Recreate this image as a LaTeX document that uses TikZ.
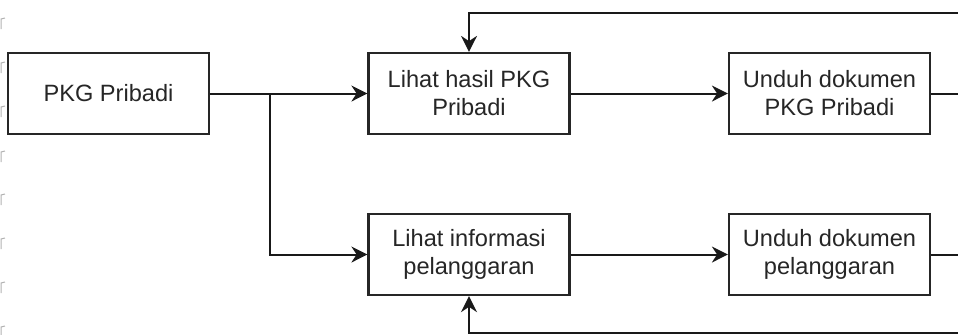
\documentclass[tikz,border=0pt]{standalone}
\usepackage{fontspec}
\setmainfont{Liberation Sans}
\usetikzlibrary{arrows.meta}

\begin{document}
\begin{tikzpicture}[x=0.5pt,y=-0.5pt,
  stepbox/.style={draw=black!85, line width=1.1pt, fill=white,
    minimum width=100.5pt, minimum height=40.5pt, inner sep=2pt,
    align=center, text=black!85,
    font=\fontsize{11.8}{14}\selectfont},
  link/.style={draw=black!90, line width=1pt},
  arr/.style={link, -{Stealth[length=8pt, width=8pt, inset=2.6pt]}},
  tickline/.style={draw=black!30, line width=0.5pt}
]
\useasboundingbox (0,0) rectangle (958,334);

% faint marks along the left edge
\foreach \t in {19,63,107,152,195,239,283,327}
  \draw[tickline] (1,\t+10) -- (1,\t) -- (5,\t-1);

% boxes
\node[stepbox] (pkg)      at (108.5,93.5) {PKG Pribadi};
\node[stepbox] (hasil)    at (469,93.5)   {Lihat hasil PKG\\Pribadi};
\node[stepbox] (unduhpkg) at (829.5,93.5) {Unduh dokumen\\PKG Pribadi};
\node[stepbox] (info)     at (469,254.5)  {Lihat informasi\\pelanggaran};
\node[stepbox] (unduhpel) at (829.5,254.5){Unduh dokumen\\pelanggaran};

% free ends running off the right and bottom edges
\coordinate (br)   at (270,93.5);
\coordinate (topR) at (958,13);
\coordinate (botR) at (958,333);
\coordinate (outA) at (958,93.5);
\coordinate (outB) at (958,254.5);

% connectors
\draw[arr] (pkg.east) -- (hasil.west);
\draw[arr] (br) |- (info.west);
\draw[arr] (hasil.east) -- (unduhpkg.west);
\draw[arr] (info.east) -- (unduhpel.west);
\draw[link] (unduhpkg.east) -- (outA);
\draw[link] (unduhpel.east) -- (outB);
\draw[arr] (topR) -| (hasil.north);
\draw[arr] (botR) -| (info.south);
\end{tikzpicture}
\end{document}
